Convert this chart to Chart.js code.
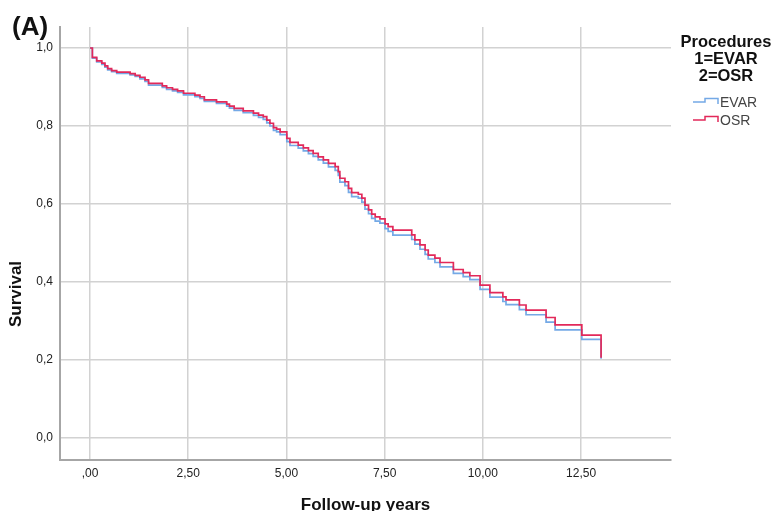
<!DOCTYPE html>
<html>
<head>
<meta charset="utf-8">
<script src="https://cdn.jsdelivr.net/npm/chart.js@4"></script>
<style>
  html, body { margin: 0; padding: 0; background: #fff; }
  #wrap { width: 776px; height: 511px; }
</style>
</head>
<body>
<div id="wrap"><canvas id="chart" width="776" height="511"></canvas></div>
<script>
const panelLabel = "(A)";
const legendTitle = ["Procedures", "1=EVAR", "2=OSR"];
const xTitle = "Follow-up years";
const yTitle = "Survival";

const xTicks = [0, 2.5, 5, 7.5, 10, 12.5];
const xTickLabels = [",00", "2,50", "5,00", "7,50", "10,00", "12,50"];
const yTicks = [0, 0.2, 0.4, 0.6, 0.8, 1.0];
const yTickLabels = ["0,0", "0,2", "0,4", "0,6", "0,8", "1,0"];

// event times (years), shared by both groups
const times = [
  0, 0.06, 0.17, 0.30, 0.38, 0.45, 0.55, 0.68, 1.02, 1.15,
  1.27, 1.40, 1.49, 1.84, 1.95, 2.10, 2.23, 2.38, 2.67, 2.80,
  2.91, 3.22, 3.48, 3.55, 3.67, 3.90, 4.16, 4.29, 4.41, 4.50,
  4.58, 4.67, 4.75, 4.84, 5.01, 5.09, 5.30, 5.43, 5.56, 5.68,
  5.81, 5.94, 6.07, 6.24, 6.32, 6.36, 6.49, 6.58, 6.66, 6.83,
  6.92, 7.00, 7.09, 7.17, 7.26, 7.38, 7.51, 7.59, 7.71, 8.19,
  8.27, 8.40, 8.53, 8.61, 8.78, 8.91, 9.25, 9.50, 9.67, 9.93,
  10.18, 10.51, 10.59, 10.93, 11.10, 11.61, 11.84, 12.52, 13.01
];

const evarSurvival = [
  1.000, 0.974, 0.964, 0.958, 0.951, 0.944, 0.939, 0.935, 0.931, 0.927,
  0.921, 0.914, 0.905, 0.899, 0.894, 0.890, 0.886, 0.880, 0.875, 0.871,
  0.863, 0.858, 0.851, 0.846, 0.840, 0.834, 0.827, 0.822, 0.817, 0.808,
  0.800, 0.789, 0.785, 0.778, 0.760, 0.750, 0.743, 0.736, 0.729, 0.722,
  0.713, 0.705, 0.695, 0.686, 0.673, 0.656, 0.647, 0.630, 0.619, 0.615,
  0.605, 0.587, 0.575, 0.563, 0.556, 0.551, 0.537, 0.530, 0.520, 0.509,
  0.497, 0.484, 0.471, 0.459, 0.450, 0.439, 0.422, 0.414, 0.406, 0.381,
  0.361, 0.350, 0.342, 0.329, 0.316, 0.297, 0.277, 0.253, 0.203
];

const osrSurvival = [
  1.000, 0.976, 0.967, 0.961, 0.954, 0.947, 0.942, 0.938, 0.934, 0.930,
  0.925, 0.918, 0.909, 0.903, 0.898, 0.894, 0.890, 0.884, 0.879, 0.875,
  0.867, 0.862, 0.856, 0.851, 0.845, 0.839, 0.833, 0.828, 0.824, 0.815,
  0.807, 0.796, 0.792, 0.785, 0.768, 0.758, 0.751, 0.744, 0.737, 0.730,
  0.721, 0.713, 0.704, 0.696, 0.683, 0.666, 0.657, 0.640, 0.629, 0.625,
  0.615, 0.597, 0.585, 0.574, 0.567, 0.562, 0.549, 0.542, 0.533, 0.521,
  0.508, 0.495, 0.482, 0.469, 0.461, 0.450, 0.432, 0.424, 0.416, 0.392,
  0.373, 0.362, 0.354, 0.341, 0.328, 0.309, 0.290, 0.264, 0.206
];

const FONT = '"Liberation Sans", Arial, sans-serif';
Chart.defaults.font.family = FONT;

// panel letter, y title and side legend, drawn after the chart
const sideLegend = {
  id: "sideLegend",
  afterDraw(chart) {
    const ctx = chart.ctx;
    ctx.save();
    ctx.textBaseline = "middle";
    ctx.fillStyle = "#111";
    ctx.font = "bold 26px " + FONT;
    ctx.textAlign = "left";
    ctx.fillText(panelLabel, 12, 28);

    // y title sits a bit below the axis middle in the original
    ctx.save();
    ctx.translate(16, 294);
    ctx.rotate(-Math.PI / 2);
    ctx.textAlign = "center";
    ctx.font = "bold 17px " + FONT;
    ctx.fillText(yTitle, 0, 0);
    ctx.restore();

    ctx.font = "bold 16.5px " + FONT;
    ctx.textAlign = "center";
    legendTitle.forEach((line, i) => ctx.fillText(line, 726, 42 + i * 17));

    chart.data.datasets.forEach((ds, i) => {
      const y = 102 + i * 18;
      ctx.strokeStyle = ds.borderColor;
      ctx.lineWidth = 1.5;
      ctx.beginPath();
      ctx.moveTo(693, y);
      ctx.lineTo(705, y);
      ctx.lineTo(705, y - 3.5);
      ctx.lineTo(718, y - 3.5);
      ctx.lineTo(718, y + 2);
      ctx.stroke();
      ctx.fillStyle = "#444";
      ctx.font = "14px " + FONT;
      ctx.textAlign = "left";
      ctx.fillText(ds.label, 720, y + 1);
    });
    ctx.restore();
  },
};

const ctx = document.getElementById("chart").getContext("2d");

new Chart(ctx, {
  type: "line",
  data: {
    datasets: [
      {
        label: "EVAR",
        data: times.map((t, i) => ({ x: t, y: evarSurvival[i] })),
        borderColor: "#74a9e6",
        borderWidth: 1.7,
        stepped: true,
        pointRadius: 0,
        fill: false,
        order: 1,
      },
      {
        label: "OSR",
        data: times.map((t, i) => ({ x: t, y: osrSurvival[i] })),
        borderColor: "#e2295a",
        borderWidth: 1.7,
        stepped: true,
        pointRadius: 0,
        fill: false,
        order: 0,
      },
    ],
  },
  options: {
    responsive: false,
    animation: false,
    layout: { padding: { top: 27, right: 105, left: 0, bottom: 0 } },
    plugins: {
      legend: { display: false },
      tooltip: { enabled: false },
    },
    scales: {
      x: {
        type: "linear",
        min: -0.764,
        max: 14.79,
        afterBuildTicks: (s) => { s.ticks = xTicks.map((v) => ({ value: v })); },
        afterFit: (s) => { s.height = 51; },
        grid: { color: "#d2d2d2", lineWidth: 1.5, drawTicks: false },
        border: { color: "#a6a6a6", width: 2 },
        ticks: {
          padding: 6,
          color: "#222",
          font: { size: 12 },
          maxRotation: 0,
          autoSkip: false,
          callback: (v, i) => xTickLabels[i],
        },
        title: {
          display: true,
          text: xTitle,
          color: "#111",
          font: { size: 17, weight: "bold", lineHeight: 1 },
          padding: { top: 0, bottom: -3 },
        },
      },
      y: {
        type: "linear",
        min: -0.0564,
        max: 1.0538,
        afterBuildTicks: (s) => { s.ticks = yTicks.map((v) => ({ value: v })); },
        afterFit: (s) => { s.width = 60; },
        grid: { color: "#d2d2d2", lineWidth: 1.5, drawTicks: false },
        border: { color: "#a6a6a6", width: 2 },
        ticks: {
          padding: 7,
          color: "#222",
          font: { size: 12 },
          autoSkip: false,
          callback: (v, i) => yTickLabels[i],
        },
      },
    },
  },
  plugins: [sideLegend],
});
</script>
</body>
</html>
